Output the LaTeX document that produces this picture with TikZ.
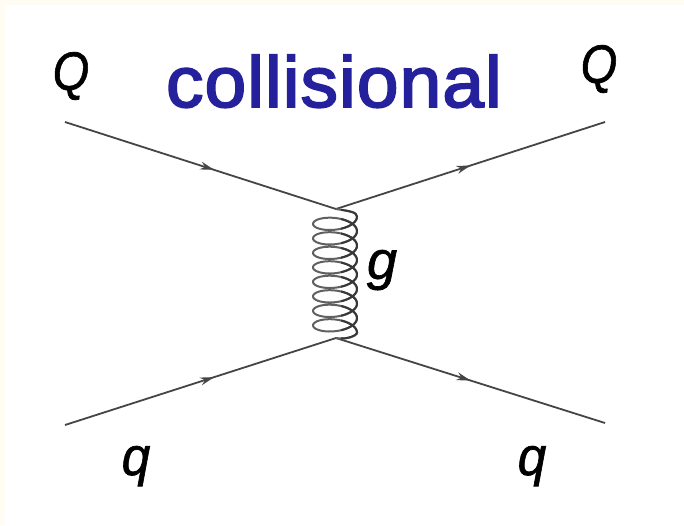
\documentclass[tikz,border=0pt]{standalone}
\usepackage{fontspec}
\setmainfont{Liberation Sans}
\newfontfamily\lblfont[ItalicFeatures={FakeBold=1.2}]{Liberation Sans}
\newfontfamily\titlefont[FakeBold=2.5,LetterSpace=1.5]{Liberation Sans}
\usetikzlibrary{arrows.meta,decorations.markings}
\definecolor{cream}{HTML}{FFFCF4}
\definecolor{titleblue}{HTML}{25209B}
\definecolor{linegray}{HTML}{454545}
\tikzset{
  x=1pt,y=-1pt,
  fermion/.style={draw=linegray,line width=1.8pt,postaction={decorate},
    decoration={markings,mark=at position #1 with {\arrow[linegray]{Stealth[length=14pt,width=8pt]}}}},
  lbl/.style={inner sep=0pt,text=black,font=\lblfont\fontsize{54}{54}\selectfont\itshape},
}
\begin{document}
\begin{tikzpicture}
\useasboundingbox (0,0) rectangle (684,525);
\fill[cream] (0,0) rectangle (684,525);
\fill[white] (5,5) rectangle (684,525);
\coordinate (a) at (65,122);
\coordinate (b) at (605,122);
\coordinate (c) at (65,425);
\coordinate (d) at (605,423);
\coordinate (top) at (336,209);
\coordinate (bot) at (336,338);
\path[fermion=0.55] (a) -- (top);
\path[fermion=0.5] (top) -- (b);
\path[fermion=0.55] (c) -- (bot);
\path[fermion=0.5] (bot) -- (d);
% gluon coil
\def\coil{(top) .. controls (349,211) and (357,212) .. (357,216.6) -- plot[domain=0:2880,samples=320,smooth] ({335+22*cos(\x)},{216.6+(\x/360)*14.5+9.5*sin(\x)}) .. controls (357,336) and (345,340) .. (bot)}
\draw[gray!75!black,line width=2pt] \coil;
\begin{scope}
\clip (341,200) rectangle (365,345);
\draw[black!78,line width=2pt] \coil;
\end{scope}
\node[lbl,xscale=.87] (Q1) at (71,76) {Q};
\node[lbl,xscale=.87] (Q2) at (599,69) {Q};
\node[lbl,xscale=.95,anchor=base] (q1) at (136,475) {q};
\node[lbl,xscale=.95,anchor=base] (q2) at (532,475) {q};
\node[lbl,anchor=base] (g) at (382,279) {g};
\node[inner sep=0pt,anchor=base,text=titleblue,xscale=1.04,font=\titlefont\fontsize{72}{72}\selectfont] (title) at (334,107) {collisional};
\end{tikzpicture}
\end{document}
